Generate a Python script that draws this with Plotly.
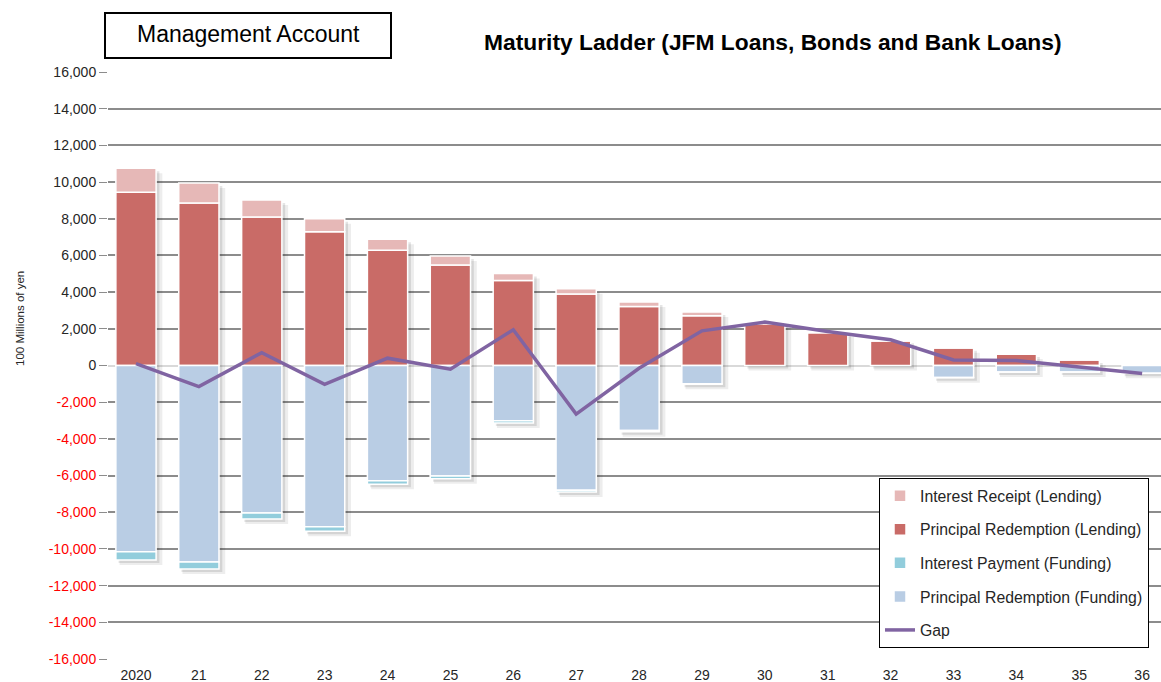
import plotly.graph_objects as go

# ---------------- data (100 millions of yen) ----------------
years = ["2020", "21", "22", "23", "24", "25", "26", "27", "28", "29",
         "30", "31", "32", "33", "34", "35", "36"]
interest_receipt = [1300, 1090, 930, 710, 600, 490, 380, 290, 250, 200,
                    100, 50, 30, 20, 12, 5, 0]
principal_lending = [9450, 8860, 8090, 7290, 6280, 5480, 4640, 3900, 3210, 2710,
                     2270, 1780, 1340, 950, 615, 295, 0]
principal_funding = [-10160, -10710, -8040, -8790, -6280, -6020, -3010, -6800, -3550, -990,
                     0, 0, 0, -660, -350, -350, -420]
interest_payment = [-440, -380, -330, -250, -195, -150, -125, -100, -60, -35,
                    0, 0, 0, -10, -5, -5, -5]
gap = [100, -1150, 700, -1030, 400, -200, 1950, -2650, -150, 1890,
       2370, 1850, 1400, 300, 270, -60, -430]
y_ticks = list(range(-16000, 16001, 2000))

# ---------------- layout helpers ----------------
W, H = 1161, 682
ML, MR, MT, MB = 108, 0, 72, 23
PW, PH = W - ML - MR, H - MT - MB
X_RANGE = [-0.445, 16.3]
Y_RANGE = [-16000, 16000]


def px_x(p):
    return (p - ML) / PW


def px_y(p):
    return (H - MB - p) / PH


FONT = "Arial, Liberation Sans, sans-serif"
xs = list(range(len(years)))

# drop-shadow geometry (pixels -> data units)
UX = (X_RANGE[1] - X_RANGE[0]) / PW
UY = (Y_RANGE[1] - Y_RANGE[0]) / PH
pos_total = [a + b for a, b in zip(principal_lending, interest_receipt)]
neg_total = [a + b for a, b in zip(principal_funding, interest_payment)]

fig = go.Figure()
# two soft shadow layers on hidden axes (x/y: far, x2/y2: near)
for ax, ay, alpha, wd in (("x", "y", 0.07, 0.68), ("x2", "y2", 0.10, 0.65)):
    sh = dict(color=f"rgba(0,0,0,{alpha})", line=dict(width=0))
    fig.add_trace(go.Bar(x=xs, y=pos_total, marker=sh, width=wd, showlegend=False,
                         hoverinfo="skip", xaxis=ax, yaxis=ay))
    fig.add_trace(go.Bar(x=xs, y=neg_total, marker=sh, width=wd, showlegend=False,
                         hoverinfo="skip", xaxis=ax, yaxis=ay))

bar_line = dict(color="white", width=1.5)
common = dict(width=0.64, xaxis="x3", yaxis="y3")
fig.add_trace(go.Bar(x=xs, y=principal_lending, name="Principal Redemption (Lending)",
                     marker=dict(color="#C96B67", line=bar_line),
                     legendrank=2, legendgroup="b", **common))
fig.add_trace(go.Bar(x=xs, y=interest_receipt, name="Interest Receipt (Lending)",
                     marker=dict(color="#E6B8B7", line=bar_line),
                     legendrank=1, legendgroup="a", **common))
fig.add_trace(go.Bar(x=xs, y=principal_funding, name="Principal Redemption (Funding)",
                     marker=dict(color="#B9CDE4", line=bar_line),
                     legendrank=4, legendgroup="d", **common))
fig.add_trace(go.Bar(x=xs, y=interest_payment, name="Interest Payment (Funding)",
                     marker=dict(color="#92CDDC", line=bar_line),
                     legendrank=3, legendgroup="c", **common))
fig.add_trace(go.Scatter(x=xs, y=gap, name="Gap", mode="lines",
                         line=dict(color="#8064A2", width=3.5),
                         legendrank=5, legendgroup="e", xaxis="x3", yaxis="y3"))

tick_text = []
for v in y_ticks:
    s = f"{v:,}"
    if v < 0:
        s = f"<span style='color:#FF0000'>{s}</span>"
    tick_text.append(s)


def hidden_x(shift_px, over=None):
    d = dict(range=[X_RANGE[0] - shift_px * UX, X_RANGE[1] - shift_px * UX],
             visible=False, showgrid=False, zeroline=False)
    if over:
        d["overlaying"] = over
    return d


def hidden_y(shift_px, over=None):
    d = dict(range=[Y_RANGE[0] + shift_px * UY, Y_RANGE[1] + shift_px * UY],
             visible=False, showgrid=False, zeroline=False)
    if over:
        d["overlaying"] = over
    return d


fig.update_layout(
    width=W, height=H,
    margin=dict(l=ML, r=MR, t=MT, b=MB, autoexpand=False),
    paper_bgcolor="white", plot_bgcolor="white",
    barmode="relative",
    font=dict(family=FONT, size=14, color="#262626"),
    showlegend=True,
    legend=dict(x=px_x(879), y=px_y(478), xanchor="left", yanchor="top",
                bgcolor="white", bordercolor="black", borderwidth=1,
                font=dict(family=FONT, size=15.8, color="#262626"),
                tracegroupgap=10, traceorder="grouped"),
    xaxis=hidden_x(5),
    yaxis=hidden_y(5),
    xaxis2=hidden_x(3, "x"),
    yaxis2=hidden_y(3, "y"),
    xaxis3=dict(range=X_RANGE, overlaying="x", tickmode="array", tickvals=xs, ticktext=years,
                showgrid=False, zeroline=False, showline=False,
                ticks="outside", ticklen=3, tickcolor="rgba(0,0,0,0)",
                tickfont=dict(size=14, color="#262626")),
    yaxis3=dict(range=Y_RANGE, overlaying="y", side="left",
                tickmode="array", tickvals=y_ticks, ticktext=tick_text,
                showgrid=True, gridcolor="#8C8C8C", gridwidth=1.5,
                zeroline=True, zerolinecolor="#D9D9D9", zerolinewidth=2,
                ticks="outside", ticklen=8, tickcolor="#8C8C8C",
                tickfont=dict(size=14, color="#262626")),
    annotations=[
        dict(text="<b>Maturity Ladder (JFM Loans, Bonds and Bank Loans)</b>",
             x=px_x(773), y=px_y(42), xref="paper", yref="paper",
             xanchor="center", yanchor="middle",
             showarrow=False, font=dict(family=FONT, size=22.8, color="black")),
        dict(text="Management Account",
             x=px_x(248), y=px_y(34), xref="paper", yref="paper",
             xanchor="center", yanchor="middle",
             showarrow=False, font=dict(family=FONT, size=23, color="black")),
        dict(text="100 Millions of yen", textangle=-90,
             x=px_x(20), y=px_y(319), xref="paper", yref="paper",
             xanchor="center", yanchor="middle",
             showarrow=False, font=dict(family=FONT, size=11.5, color="#262626")),
    ],
    shapes=[
        dict(type="rect", xref="paper", yref="paper",
             x0=px_x(105), x1=px_x(391), y0=px_y(58), y1=px_y(13),
             line=dict(color="black", width=2), fillcolor="rgba(0,0,0,0)"),
    ],
)

fig.write_html("out.html", config={"displayModeBar": False},
               post_script="document.body.style.margin='0';")
